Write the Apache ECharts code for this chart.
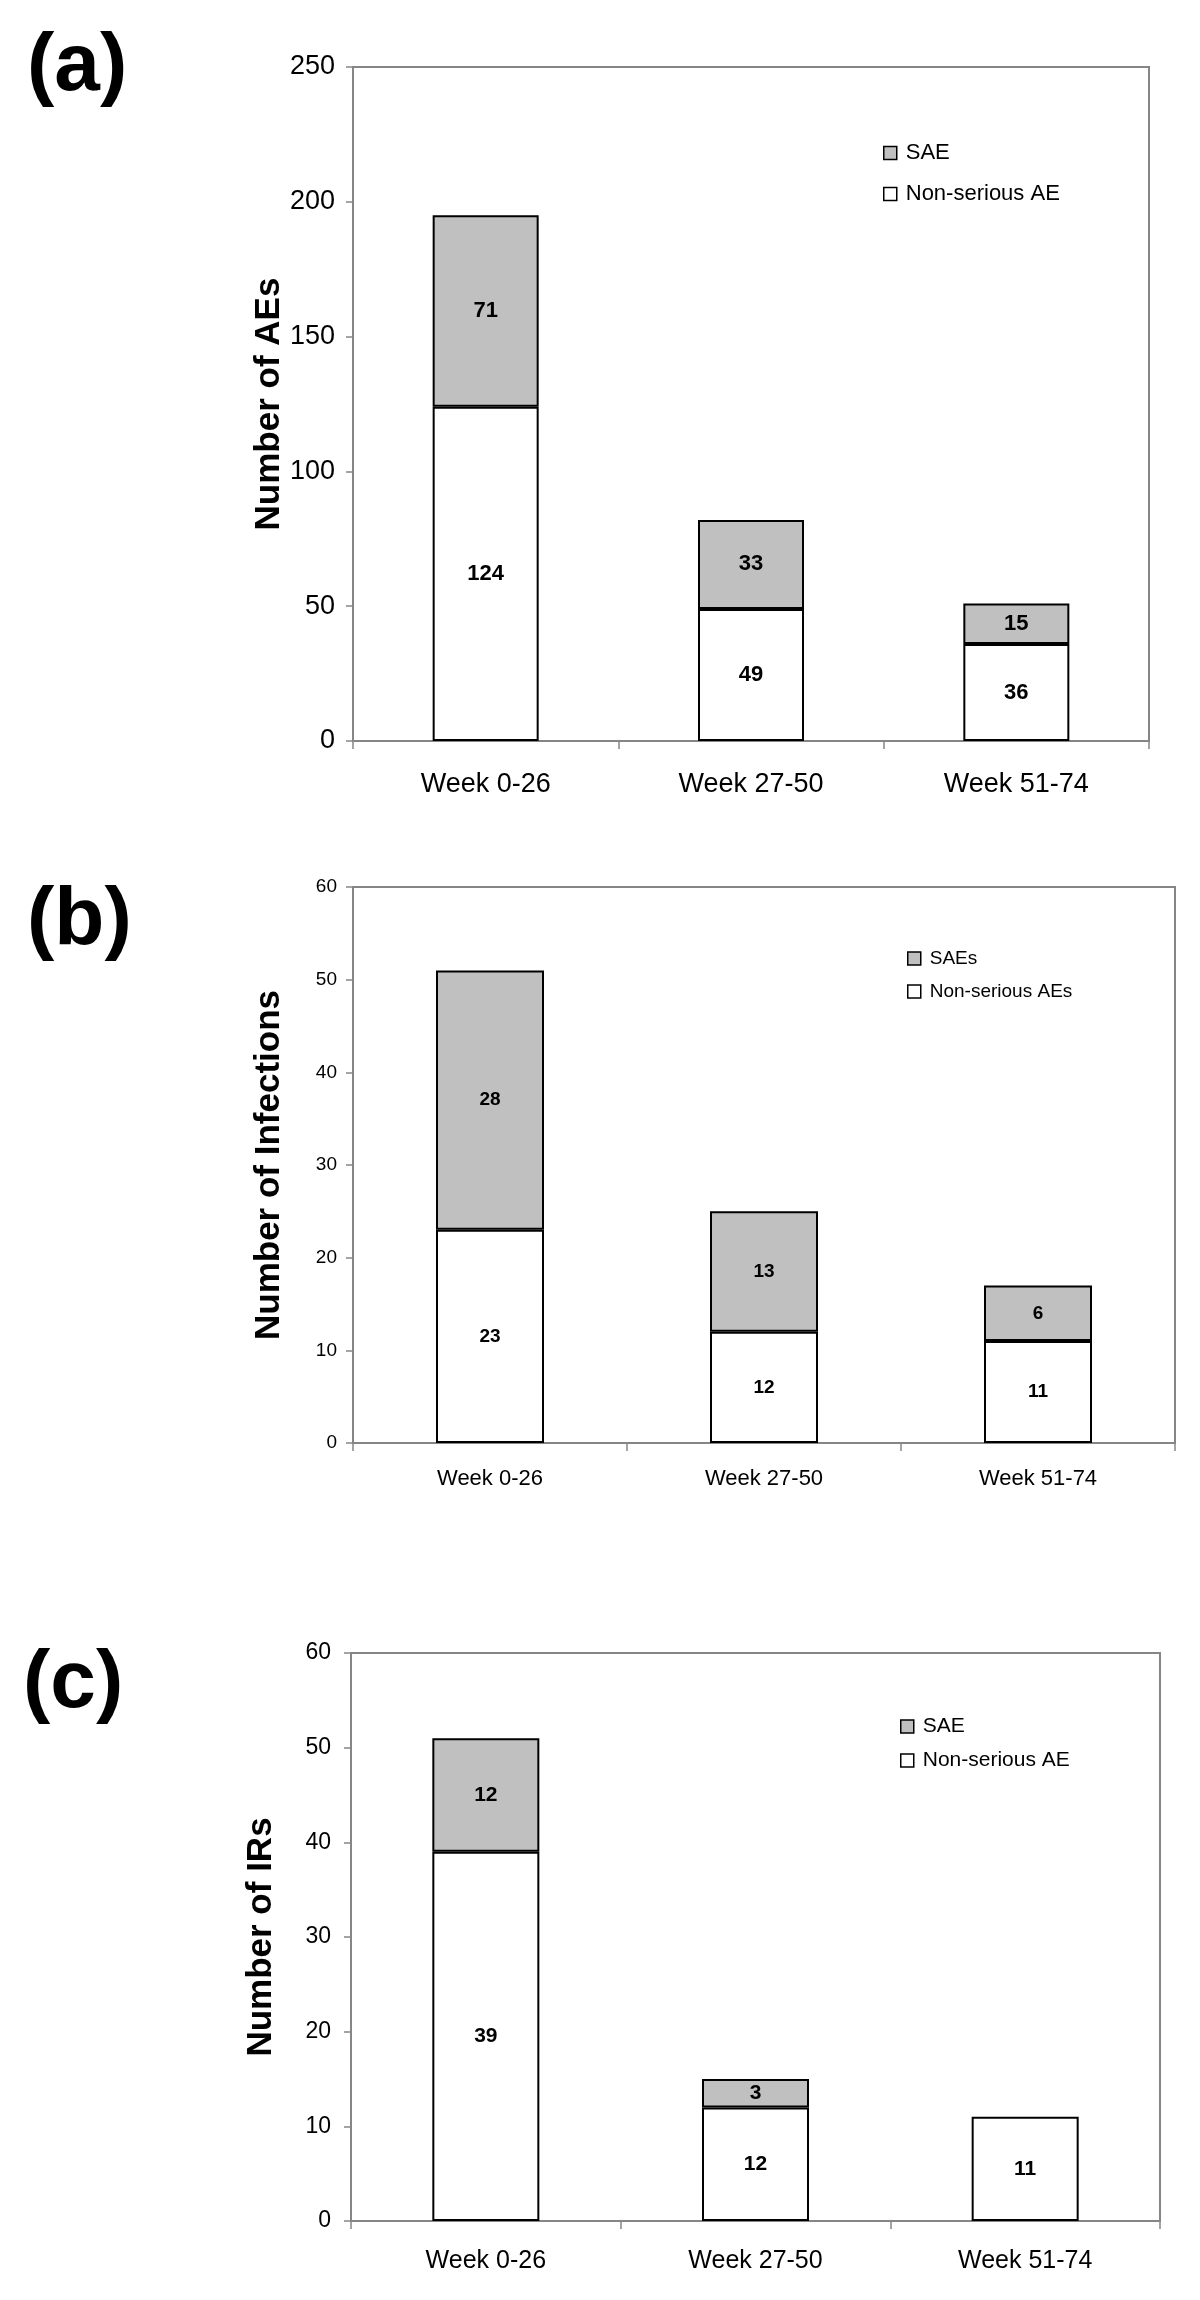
<!DOCTYPE html>
<html>
<head>
<meta charset="utf-8">
<script src="https://cdn.jsdelivr.net/npm/echarts@6/dist/echarts.min.js"></script>
<style>
  html, body { margin: 0; padding: 0; background: #fff; }
  #chart { width: 1200px; height: 2300px; }
</style>
</head>
<body>
<div id="chart"></div>
<script>
// categories
var weeks = ['Week 0-26', 'Week 27-50', 'Week 51-74'];

// (a) all AEs
var aNonSerious = [124, 49, 36];
var aSae = [71, 33, 15];

// (b) infections
var bNonSerious = [23, 12, 11];
var bSae = [28, 13, 6];

// (c) IRs - no SAE in last period
var cNonSerious = [39, 12, 11];
var cSae = [12, 3, '-'];

// y axis ranges (max, step)
var aAxis = [250, 50];
var bAxis = [60, 10];
var cAxis = [60, 10];

var FONT = '"Liberation Sans", Arial, sans-serif';
var GRAY = '#868686';

window.onload = function () {
    var chart = echarts.init(document.getElementById('chart'));

    // one panel = grid + x axis + y axis, all settings in one place
    var panels = [
        { grid: { left: 353, right: 51, top: 67, height: 674 }, range: aAxis, yName: 'Number of AEs',
          tickSize: 27, catSize: 27, labelSize: 22, nameGap: 66, yMargin: 18, xMargin: 30, barWidth: 106 },
        { grid: { left: 353, right: 25, top: 887, height: 556 }, range: bAxis, yName: 'Number of Infections',
          tickSize: 19, catSize: 22, labelSize: 19, nameGap: 66, yMargin: 16, xMargin: 25, barWidth: 108 },
        { grid: { left: 351, right: 40, top: 1653, height: 568 }, range: cAxis, yName: 'Number of IRs',
          tickSize: 23, catSize: 25, labelSize: 21, nameGap: 72, yMargin: 20, xMargin: 28, barWidth: 107 }
    ];

    var grids = [], xAxes = [], yAxes = [];
    panels.forEach(function (p, i) {
        grids.push(Object.assign({ show: true, borderColor: GRAY, borderWidth: 2, backgroundColor: '#fff' }, p.grid));
        xAxes.push({
            type: 'category',
            gridIndex: i,
            data: weeks,
            axisLine: { lineStyle: { color: GRAY, width: 2 } },
            axisTick: { show: true, length: 8, lineStyle: { color: GRAY, width: 1.5 } },
            axisLabel: { color: '#000', fontSize: p.catSize, fontFamily: FONT, margin: p.xMargin }
        });
        yAxes.push({
            type: 'value',
            gridIndex: i,
            min: 0,
            max: p.range[0],
            interval: p.range[1],
            name: p.yName,
            nameLocation: 'middle',
            nameRotate: 90,
            nameGap: p.nameGap,
            nameMoveOverlap: false,
            nameTextStyle: { color: '#000', fontSize: 35, fontWeight: 'bold', fontFamily: FONT },
            splitLine: { show: false },
            axisLine: { show: true, lineStyle: { color: GRAY, width: 2 } },
            axisTick: { show: true, length: 7, lineStyle: { color: GRAY, width: 1.5 } },
            axisLabel: { color: '#000', fontSize: p.tickSize, fontFamily: FONT, margin: p.yMargin }
        });
    });

    function bars(name, data, idx, color) {
        var p = panels[idx];
        return {
            name: name,
            type: 'bar',
            stack: 'p' + idx,
            xAxisIndex: idx,
            yAxisIndex: idx,
            barWidth: p.barWidth,
            data: data,
            itemStyle: { color: color, borderColor: '#000', borderWidth: 2 },
            label: {
                show: true,
                position: 'inside',
                color: '#000',
                fontWeight: 'bold',
                fontSize: p.labelSize,
                fontFamily: FONT
            }
        };
    }

    function legend(names, left, top, size, gap) {
        return {
            orient: 'vertical',
            left: left,
            top: top,
            data: names,
            icon: 'rect',
            itemWidth: 13,
            itemHeight: 13,
            itemGap: gap,
            selectedMode: false,
            itemStyle: { borderColor: '#000', borderWidth: 1.5 },
            textStyle: { color: '#000', fontSize: size, fontFamily: FONT, padding: [0, 0, 0, 4] }
        };
    }

    function panelTag(text, left, top) {
        return {
            text: text,
            left: left,
            top: top,
            textStyle: { fontSize: 82, fontWeight: 'bold', color: '#000', fontFamily: FONT }
        };
    }

    var option = {
        backgroundColor: '#fff',
        animation: false,
        title: [
            panelTag('(a)', 22, 21),
            panelTag('(b)', 22, 875),
            panelTag('(c)', 18, 1638)
        ],
        legend: [
            legend(['SAE', 'Non-serious AE'], 878, 137, 22, 19),
            legend(['SAEs', 'Non-serious AEs'], 902, 944, 19, 14),
            legend(['SAE', 'Non-serious AE'], 895, 1711, 21, 13)
        ],
        grid: grids,
        xAxis: xAxes,
        yAxis: yAxes,
        series: [
            bars('Non-serious AE', aNonSerious, 0, '#ffffff'),
            bars('SAE', aSae, 0, '#c0c0c0'),
            bars('Non-serious AEs', bNonSerious, 1, '#ffffff'),
            bars('SAEs', bSae, 1, '#c0c0c0'),
            bars('Non-serious AE', cNonSerious, 2, '#ffffff'),
            bars('SAE', cSae, 2, '#c0c0c0')
        ]
    };

    chart.setOption(option);
};
</script>
</body>
</html>
